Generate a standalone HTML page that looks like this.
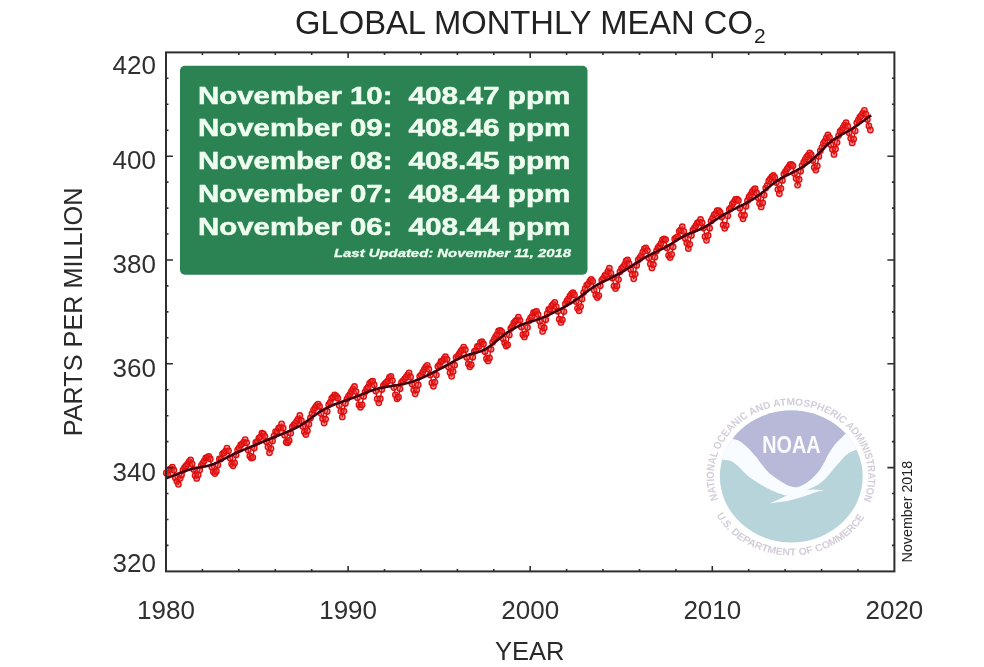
<!DOCTYPE html>
<html><head><meta charset="utf-8"><title>Global Monthly Mean CO2</title>
<style>
html,body{margin:0;padding:0;background:#fff;}
body{width:984px;height:667px;overflow:hidden;}
svg{display:block;will-change:transform;font-family:"Liberation Sans",Arial,sans-serif;}
</style></head><body>
<svg width="984" height="667" viewBox="0 0 984 667">
<rect width="984" height="667" fill="#fff"/>
<text x="295" y="33.5" font-size="32.6" fill="#222" textLength="458" lengthAdjust="spacingAndGlyphs">GLOBAL MONTHLY MEAN CO</text>
<text x="754" y="43" font-size="21" fill="#222">2</text>
<!-- NOAA logo -->
<defs>
  <clipPath id="disk"><ellipse cx="791.3" cy="476.4" rx="71.4" ry="66"/></clipPath>
</defs>
<ellipse cx="791.3" cy="476.4" rx="71.4" ry="66" fill="#b6d4da"/>
<g clip-path="url(#disk)">
  <path fill="#b8b8d8" d="M700.0,431.0 C705.5,432.3 726.3,437.2 733.0,439.0 C739.7,440.8 737.5,440.0 740.0,441.5 C742.5,443.0 745.8,446.0 748.0,448.0 C750.2,450.0 751.5,451.8 753.0,453.5 C754.5,455.2 755.7,456.3 757.0,458.0 C758.3,459.7 759.5,461.6 761.0,463.5 C762.5,465.4 764.3,467.9 766.0,469.7 C767.7,471.5 769.0,472.9 771.0,474.5 C773.0,476.1 775.3,477.8 778.0,479.5 C780.7,481.2 784.2,483.7 787.0,485.0 C789.8,486.3 792.5,487.2 795.0,487.3 C797.5,487.4 799.3,486.8 802.0,485.5 C804.7,484.2 808.2,481.9 811.0,479.5 C813.8,477.1 816.8,473.9 819.0,471.0 C821.2,468.1 822.9,464.8 824.5,462.0 C826.1,459.2 826.8,456.9 828.5,454.0 C830.2,451.1 832.8,447.2 835.0,444.5 C837.2,441.8 839.8,439.6 842.0,437.5 C844.2,435.4 841.7,436.6 848.0,432.0 C854.3,427.4 874.7,413.7 880.0,410.0 L880,395 L700,395 Z"/>
  <path fill="#f8fbff" d="M700.0,431.0 C705.5,432.3 726.3,437.2 733.0,439.0 C739.7,440.8 737.5,440.0 740.0,441.5 C742.5,443.0 745.8,446.0 748.0,448.0 C750.2,450.0 751.5,451.8 753.0,453.5 C754.5,455.2 755.7,456.3 757.0,458.0 C758.3,459.7 759.5,461.6 761.0,463.5 C762.5,465.4 764.3,467.9 766.0,469.7 C767.7,471.5 769.0,472.9 771.0,474.5 C773.0,476.1 775.3,477.8 778.0,479.5 C780.7,481.2 784.2,483.7 787.0,485.0 C789.8,486.3 792.5,487.2 795.0,487.3 C797.5,487.4 799.3,486.8 802.0,485.5 C804.7,484.2 808.2,481.9 811.0,479.5 C813.8,477.1 816.8,473.9 819.0,471.0 C821.2,468.1 822.9,464.8 824.5,462.0 C826.1,459.2 826.8,456.9 828.5,454.0 C830.2,451.1 832.8,447.2 835.0,444.5 C837.2,441.8 839.8,439.6 842.0,437.5 C844.2,435.4 841.7,436.6 848.0,432.0 C854.3,427.4 874.7,413.7 880.0,410.0 L880,447 C877.5,447.3 868.9,448.5 865.0,449.0 C861.1,449.5 859.4,449.0 856.5,449.8 C853.6,450.6 850.3,452.1 847.6,454.0 C844.9,455.9 842.8,458.6 840.4,461.2 C838.0,463.8 835.6,466.8 833.2,469.6 C830.8,472.4 828.6,475.4 826.0,478.0 C823.4,480.6 820.3,483.2 817.6,485.0 C814.9,486.8 812.4,487.2 810.0,488.5 C807.6,489.8 805.5,491.4 803.0,492.5 C800.5,493.6 797.8,494.5 795.0,495.0 C792.2,495.5 789.1,495.7 786.5,495.5 C783.9,495.3 781.8,494.4 779.4,493.6 C777.0,492.8 774.2,491.5 772.0,490.5 C769.8,489.5 768.5,489.0 766.0,487.6 C763.5,486.2 760.0,484.1 757.0,482.2 C754.0,480.3 751.0,478.5 748.0,476.0 C745.0,473.5 741.3,469.2 739.0,467.0 C736.7,464.8 735.5,464.1 734.0,463.0 C732.5,461.9 732.5,461.3 730.0,460.7 C727.5,460.1 724.0,459.8 719.0,459.5 C714.0,459.2 703.2,459.1 700.0,459.0 Z"/>
  <path fill="#f8fbff" d="M769.6,503.6 L778.0,502.3 L787.5,500.9 L796.0,498.8 L803.8,496.5 L812.0,493.5 L818.0,491.6 L824.5,490.3 L818.0,489.8 L812.0,489.6 L805.0,490.5 L796.0,492.5 L788.0,495.0 L781.0,498.3 L774.0,501.5 L769.6,503.6 Z"/>
</g>
<text x="791.4" y="453" font-size="23" font-weight="bold" fill="#fbfbff" text-anchor="middle" textLength="58.3" lengthAdjust="spacingAndGlyphs">NOAA</text>
<g transform="translate(791,476.4) scale(1.085,1)">
  <defs>
    <path id="toparc" d="M-67.1,23.1 A71,71 0 1 1 66.5,24.8"/>
    <path id="botarc" d="M-68.8,38.8 A79,79 0 0 0 68.1,40.1"/>
  </defs>
  <g fill="#d4cdda">
    <text font-size="10" font-weight="bold" textLength="271" lengthAdjust="spacingAndGlyphs"><textPath href="#toparc">NATIONAL OCEANIC AND ATMOSPHERIC ADMINISTRATION</textPath></text>
    <text font-size="10" font-weight="bold" textLength="165" lengthAdjust="spacingAndGlyphs"><textPath href="#botarc">U.S. DEPARTMENT OF COMMERCE</textPath></text>
  </g>
</g>
<!-- data -->
<defs><filter id="soft" x="-5%" y="-5%" width="110%" height="110%"><feGaussianBlur stdDeviation="0.45"/></filter></defs>
<g filter="url(#soft)">
<polyline points="166.3,472.9 167.8,474.4 169.3,469.9 170.9,468.6 172.4,467.1 173.9,470.2 175.4,477.9 176.9,481.3 178.4,484.3 180.0,478.5 181.5,475.0 183.0,470.2 184.5,467.7 186.0,466.0 187.5,464.2 189.1,461.7 190.6,459.8 192.1,463.8 193.6,469.5 195.1,475.6 196.7,478.4 198.2,474.9 199.7,469.9 201.2,465.6 202.7,463.3 204.2,460.9 205.8,457.9 207.3,457.7 208.8,456.5 210.3,459.0 211.8,467.1 213.3,471.8 214.9,473.6 216.4,471.2 217.9,465.1 219.4,458.9 220.9,459.1 222.5,453.8 224.0,452.9 225.5,451.1 227.0,448.1 228.5,450.8 230.0,458.1 231.6,463.8 233.1,465.7 234.6,462.9 236.1,455.1 237.6,449.9 239.1,447.9 240.7,444.9 242.2,443.8 243.7,442.1 245.2,439.6 246.7,442.8 248.2,450.0 249.8,456.0 251.3,458.1 252.8,457.4 254.3,448.1 255.8,442.5 257.4,441.7 258.9,438.1 260.4,436.8 261.9,433.2 263.4,434.0 264.9,436.4 266.5,441.7 268.0,447.1 269.5,452.7 271.0,448.6 272.5,440.9 274.0,435.8 275.6,431.6 277.1,431.6 278.6,428.2 280.1,427.2 281.6,423.9 283.2,428.2 284.7,435.2 286.2,442.2 287.7,442.7 289.2,440.5 290.7,433.2 292.3,426.9 293.8,425.0 295.3,423.4 296.8,421.2 298.3,418.9 299.8,415.5 301.4,420.7 302.9,426.5 304.4,432.1 305.9,434.5 307.4,430.7 308.9,424.2 310.5,418.0 312.0,413.7 313.5,410.1 315.0,407.8 316.5,405.6 318.1,404.1 319.6,406.5 321.1,413.4 322.6,418.7 324.1,423.1 325.6,419.1 327.2,411.5 328.7,404.7 330.2,402.4 331.7,398.4 333.2,397.0 334.7,394.8 336.3,396.2 337.8,398.2 339.3,405.4 340.8,411.1 342.3,416.9 343.9,411.1 345.4,403.5 346.9,399.1 348.4,396.5 349.9,394.3 351.4,391.5 353.0,388.9 354.5,386.5 356.0,391.6 357.5,397.7 359.0,404.9 360.5,407.2 362.1,404.8 363.6,396.4 365.1,392.0 366.6,388.9 368.1,387.2 369.6,383.3 371.2,381.8 372.7,381.2 374.2,384.8 375.7,391.1 377.2,398.8 378.8,402.8 380.3,398.7 381.8,389.6 383.3,385.7 384.8,383.8 386.3,382.5 387.9,380.8 389.4,377.5 390.9,376.3 392.4,380.6 393.9,387.6 395.4,394.8 397.0,398.7 398.5,397.2 400.0,388.8 401.5,382.4 403.0,381.0 404.6,378.8 406.1,377.2 407.6,374.9 409.1,372.8 410.6,377.2 412.1,384.1 413.7,390.1 415.2,393.8 416.7,389.9 418.2,384.9 419.7,376.3 421.2,374.9 422.8,372.1 424.3,369.3 425.8,366.9 427.3,365.4 428.8,369.2 430.3,374.9 431.9,382.9 433.4,386.2 434.9,382.1 436.4,375.1 437.9,366.5 439.5,364.7 441.0,361.5 442.5,360.8 444.0,358.7 445.5,356.7 447.0,359.3 448.6,367.0 450.1,372.7 451.6,376.3 453.1,371.6 454.6,365.2 456.1,357.4 457.7,356.1 459.2,354.0 460.7,351.5 462.2,349.6 463.7,347.1 465.3,349.7 466.8,357.4 468.3,363.8 469.8,366.7 471.3,364.8 472.8,357.2 474.4,351.5 475.9,350.3 477.4,346.5 478.9,346.4 480.4,342.5 481.9,341.7 483.5,344.0 485.0,351.7 486.5,358.7 488.0,360.9 489.5,358.0 491.0,349.3 492.6,342.3 494.1,339.4 495.6,336.6 497.1,334.3 498.6,331.0 500.2,330.5 501.7,331.6 503.2,338.7 504.7,343.1 506.2,346.0 507.7,344.8 509.3,334.9 510.8,328.5 512.3,326.4 513.8,322.8 515.3,321.2 516.8,319.9 518.4,317.2 519.9,320.3 521.4,327.0 522.9,334.7 524.4,336.9 526.0,333.7 527.5,327.4 529.0,320.8 530.5,318.1 532.0,316.4 533.5,312.6 535.1,311.8 536.6,311.4 538.1,314.6 539.6,321.1 541.1,325.9 542.6,331.4 544.2,327.9 545.7,319.7 547.2,313.7 548.7,309.4 550.2,309.3 551.7,306.0 553.3,304.2 554.8,302.3 556.3,306.8 557.8,311.2 559.3,319.2 560.9,322.4 562.4,319.8 563.9,311.6 565.4,304.0 566.9,301.0 568.4,298.8 570.0,296.0 571.5,293.9 573.0,292.7 574.5,294.9 576.0,301.6 577.5,308.3 579.1,310.7 580.6,306.6 582.1,299.0 583.6,292.6 585.1,288.7 586.7,285.1 588.2,284.1 589.7,281.3 591.2,279.5 592.7,281.3 594.2,290.2 595.8,294.9 597.3,297.5 598.8,295.6 600.3,285.8 601.8,280.1 603.3,278.3 604.9,275.5 606.4,274.5 607.9,271.5 609.4,268.2 610.9,273.4 612.4,278.1 614.0,286.1 615.5,288.6 617.0,285.9 618.5,279.6 620.0,271.7 621.6,268.4 623.1,267.0 624.6,264.7 626.1,260.9 627.6,259.9 629.1,263.7 630.7,269.5 632.2,274.5 633.7,278.8 635.2,274.1 636.7,265.4 638.2,259.9 639.8,258.0 641.3,255.6 642.8,252.1 644.3,248.9 645.8,247.8 647.4,250.6 648.9,258.0 650.4,263.9 651.9,267.9 653.4,264.5 654.9,257.2 656.5,251.0 658.0,247.7 659.5,245.9 661.0,243.5 662.5,239.9 664.0,238.9 665.6,239.7 667.1,247.9 668.6,255.5 670.1,257.6 671.6,254.4 673.1,247.0 674.7,238.9 676.2,237.6 677.7,236.8 679.2,231.3 680.7,229.9 682.3,226.7 683.8,231.4 685.3,238.5 686.8,243.0 688.3,248.5 689.8,244.3 691.4,235.4 692.9,230.2 694.4,228.0 695.9,225.7 697.4,223.0 698.9,222.1 700.5,219.5 702.0,222.7 703.5,228.1 705.0,236.6 706.5,240.3 708.1,235.5 709.6,228.2 711.1,220.9 712.6,218.2 714.1,214.8 715.6,213.6 717.2,210.6 718.7,210.7 720.2,212.3 721.7,217.0 723.2,225.0 724.7,228.3 726.3,225.3 727.8,215.8 729.3,209.5 730.8,208.0 732.3,204.2 733.8,202.2 735.4,199.5 736.9,199.1 738.4,200.4 739.9,208.2 741.4,215.1 743.0,218.8 744.5,215.2 746.0,206.3 747.5,200.7 749.0,197.0 750.5,194.9 752.1,191.9 753.6,189.8 755.1,188.7 756.6,193.0 758.1,197.7 759.6,203.5 761.2,206.9 762.7,202.8 764.2,195.1 765.7,188.1 767.2,185.5 768.8,180.9 770.3,179.0 771.8,176.8 773.3,175.5 774.8,177.4 776.3,182.6 777.9,189.6 779.4,193.7 780.9,188.5 782.4,180.4 783.9,174.2 785.4,171.7 787.0,169.1 788.5,167.2 790.0,164.7 791.5,164.4 793.0,165.8 794.5,173.5 796.1,178.6 797.6,185.1 799.1,179.5 800.6,171.2 802.1,165.6 803.7,162.2 805.2,159.4 806.7,156.9 808.2,155.1 809.7,152.8 811.2,154.6 812.8,160.6 814.3,167.4 815.8,170.1 817.3,165.9 818.8,156.4 820.3,150.8 821.9,147.6 823.4,143.4 824.9,141.2 826.4,137.8 827.9,135.0 829.5,137.3 831.0,144.7 832.5,149.4 834.0,154.4 835.5,149.0 837.0,142.4 838.6,135.6 840.1,131.4 841.6,129.8 843.1,127.7 844.6,125.0 846.1,122.7 847.7,126.2 849.2,132.8 850.7,138.3 852.2,142.9 853.7,139.1 855.2,130.9 856.8,122.8 858.3,120.1 859.8,117.2 861.3,115.6 862.8,113.1 864.4,110.4 865.9,114.1 867.4,119.6 868.9,125.9 870.4,130.0" fill="none" stroke="#b00808" stroke-width="1.3" stroke-linejoin="round"/>
<g fill="#ee3333" fill-opacity="0.5" stroke="#e01010" stroke-width="1.35"><circle cx="166.3" cy="472.9" r="2.75"/><circle cx="167.8" cy="474.4" r="2.75"/><circle cx="169.3" cy="469.9" r="2.75"/><circle cx="170.9" cy="468.6" r="2.75"/><circle cx="172.4" cy="467.1" r="2.75"/><circle cx="173.9" cy="470.2" r="2.75"/><circle cx="175.4" cy="477.9" r="2.75"/><circle cx="176.9" cy="481.3" r="2.75"/><circle cx="178.4" cy="484.3" r="2.75"/><circle cx="180.0" cy="478.5" r="2.75"/><circle cx="181.5" cy="475.0" r="2.75"/><circle cx="183.0" cy="470.2" r="2.75"/><circle cx="184.5" cy="467.7" r="2.75"/><circle cx="186.0" cy="466.0" r="2.75"/><circle cx="187.5" cy="464.2" r="2.75"/><circle cx="189.1" cy="461.7" r="2.75"/><circle cx="190.6" cy="459.8" r="2.75"/><circle cx="192.1" cy="463.8" r="2.75"/><circle cx="193.6" cy="469.5" r="2.75"/><circle cx="195.1" cy="475.6" r="2.75"/><circle cx="196.7" cy="478.4" r="2.75"/><circle cx="198.2" cy="474.9" r="2.75"/><circle cx="199.7" cy="469.9" r="2.75"/><circle cx="201.2" cy="465.6" r="2.75"/><circle cx="202.7" cy="463.3" r="2.75"/><circle cx="204.2" cy="460.9" r="2.75"/><circle cx="205.8" cy="457.9" r="2.75"/><circle cx="207.3" cy="457.7" r="2.75"/><circle cx="208.8" cy="456.5" r="2.75"/><circle cx="210.3" cy="459.0" r="2.75"/><circle cx="211.8" cy="467.1" r="2.75"/><circle cx="213.3" cy="471.8" r="2.75"/><circle cx="214.9" cy="473.6" r="2.75"/><circle cx="216.4" cy="471.2" r="2.75"/><circle cx="217.9" cy="465.1" r="2.75"/><circle cx="219.4" cy="458.9" r="2.75"/><circle cx="220.9" cy="459.1" r="2.75"/><circle cx="222.5" cy="453.8" r="2.75"/><circle cx="224.0" cy="452.9" r="2.75"/><circle cx="225.5" cy="451.1" r="2.75"/><circle cx="227.0" cy="448.1" r="2.75"/><circle cx="228.5" cy="450.8" r="2.75"/><circle cx="230.0" cy="458.1" r="2.75"/><circle cx="231.6" cy="463.8" r="2.75"/><circle cx="233.1" cy="465.7" r="2.75"/><circle cx="234.6" cy="462.9" r="2.75"/><circle cx="236.1" cy="455.1" r="2.75"/><circle cx="237.6" cy="449.9" r="2.75"/><circle cx="239.1" cy="447.9" r="2.75"/><circle cx="240.7" cy="444.9" r="2.75"/><circle cx="242.2" cy="443.8" r="2.75"/><circle cx="243.7" cy="442.1" r="2.75"/><circle cx="245.2" cy="439.6" r="2.75"/><circle cx="246.7" cy="442.8" r="2.75"/><circle cx="248.2" cy="450.0" r="2.75"/><circle cx="249.8" cy="456.0" r="2.75"/><circle cx="251.3" cy="458.1" r="2.75"/><circle cx="252.8" cy="457.4" r="2.75"/><circle cx="254.3" cy="448.1" r="2.75"/><circle cx="255.8" cy="442.5" r="2.75"/><circle cx="257.4" cy="441.7" r="2.75"/><circle cx="258.9" cy="438.1" r="2.75"/><circle cx="260.4" cy="436.8" r="2.75"/><circle cx="261.9" cy="433.2" r="2.75"/><circle cx="263.4" cy="434.0" r="2.75"/><circle cx="264.9" cy="436.4" r="2.75"/><circle cx="266.5" cy="441.7" r="2.75"/><circle cx="268.0" cy="447.1" r="2.75"/><circle cx="269.5" cy="452.7" r="2.75"/><circle cx="271.0" cy="448.6" r="2.75"/><circle cx="272.5" cy="440.9" r="2.75"/><circle cx="274.0" cy="435.8" r="2.75"/><circle cx="275.6" cy="431.6" r="2.75"/><circle cx="277.1" cy="431.6" r="2.75"/><circle cx="278.6" cy="428.2" r="2.75"/><circle cx="280.1" cy="427.2" r="2.75"/><circle cx="281.6" cy="423.9" r="2.75"/><circle cx="283.2" cy="428.2" r="2.75"/><circle cx="284.7" cy="435.2" r="2.75"/><circle cx="286.2" cy="442.2" r="2.75"/><circle cx="287.7" cy="442.7" r="2.75"/><circle cx="289.2" cy="440.5" r="2.75"/><circle cx="290.7" cy="433.2" r="2.75"/><circle cx="292.3" cy="426.9" r="2.75"/><circle cx="293.8" cy="425.0" r="2.75"/><circle cx="295.3" cy="423.4" r="2.75"/><circle cx="296.8" cy="421.2" r="2.75"/><circle cx="298.3" cy="418.9" r="2.75"/><circle cx="299.8" cy="415.5" r="2.75"/><circle cx="301.4" cy="420.7" r="2.75"/><circle cx="302.9" cy="426.5" r="2.75"/><circle cx="304.4" cy="432.1" r="2.75"/><circle cx="305.9" cy="434.5" r="2.75"/><circle cx="307.4" cy="430.7" r="2.75"/><circle cx="308.9" cy="424.2" r="2.75"/><circle cx="310.5" cy="418.0" r="2.75"/><circle cx="312.0" cy="413.7" r="2.75"/><circle cx="313.5" cy="410.1" r="2.75"/><circle cx="315.0" cy="407.8" r="2.75"/><circle cx="316.5" cy="405.6" r="2.75"/><circle cx="318.1" cy="404.1" r="2.75"/><circle cx="319.6" cy="406.5" r="2.75"/><circle cx="321.1" cy="413.4" r="2.75"/><circle cx="322.6" cy="418.7" r="2.75"/><circle cx="324.1" cy="423.1" r="2.75"/><circle cx="325.6" cy="419.1" r="2.75"/><circle cx="327.2" cy="411.5" r="2.75"/><circle cx="328.7" cy="404.7" r="2.75"/><circle cx="330.2" cy="402.4" r="2.75"/><circle cx="331.7" cy="398.4" r="2.75"/><circle cx="333.2" cy="397.0" r="2.75"/><circle cx="334.7" cy="394.8" r="2.75"/><circle cx="336.3" cy="396.2" r="2.75"/><circle cx="337.8" cy="398.2" r="2.75"/><circle cx="339.3" cy="405.4" r="2.75"/><circle cx="340.8" cy="411.1" r="2.75"/><circle cx="342.3" cy="416.9" r="2.75"/><circle cx="343.9" cy="411.1" r="2.75"/><circle cx="345.4" cy="403.5" r="2.75"/><circle cx="346.9" cy="399.1" r="2.75"/><circle cx="348.4" cy="396.5" r="2.75"/><circle cx="349.9" cy="394.3" r="2.75"/><circle cx="351.4" cy="391.5" r="2.75"/><circle cx="353.0" cy="388.9" r="2.75"/><circle cx="354.5" cy="386.5" r="2.75"/><circle cx="356.0" cy="391.6" r="2.75"/><circle cx="357.5" cy="397.7" r="2.75"/><circle cx="359.0" cy="404.9" r="2.75"/><circle cx="360.5" cy="407.2" r="2.75"/><circle cx="362.1" cy="404.8" r="2.75"/><circle cx="363.6" cy="396.4" r="2.75"/><circle cx="365.1" cy="392.0" r="2.75"/><circle cx="366.6" cy="388.9" r="2.75"/><circle cx="368.1" cy="387.2" r="2.75"/><circle cx="369.6" cy="383.3" r="2.75"/><circle cx="371.2" cy="381.8" r="2.75"/><circle cx="372.7" cy="381.2" r="2.75"/><circle cx="374.2" cy="384.8" r="2.75"/><circle cx="375.7" cy="391.1" r="2.75"/><circle cx="377.2" cy="398.8" r="2.75"/><circle cx="378.8" cy="402.8" r="2.75"/><circle cx="380.3" cy="398.7" r="2.75"/><circle cx="381.8" cy="389.6" r="2.75"/><circle cx="383.3" cy="385.7" r="2.75"/><circle cx="384.8" cy="383.8" r="2.75"/><circle cx="386.3" cy="382.5" r="2.75"/><circle cx="387.9" cy="380.8" r="2.75"/><circle cx="389.4" cy="377.5" r="2.75"/><circle cx="390.9" cy="376.3" r="2.75"/><circle cx="392.4" cy="380.6" r="2.75"/><circle cx="393.9" cy="387.6" r="2.75"/><circle cx="395.4" cy="394.8" r="2.75"/><circle cx="397.0" cy="398.7" r="2.75"/><circle cx="398.5" cy="397.2" r="2.75"/><circle cx="400.0" cy="388.8" r="2.75"/><circle cx="401.5" cy="382.4" r="2.75"/><circle cx="403.0" cy="381.0" r="2.75"/><circle cx="404.6" cy="378.8" r="2.75"/><circle cx="406.1" cy="377.2" r="2.75"/><circle cx="407.6" cy="374.9" r="2.75"/><circle cx="409.1" cy="372.8" r="2.75"/><circle cx="410.6" cy="377.2" r="2.75"/><circle cx="412.1" cy="384.1" r="2.75"/><circle cx="413.7" cy="390.1" r="2.75"/><circle cx="415.2" cy="393.8" r="2.75"/><circle cx="416.7" cy="389.9" r="2.75"/><circle cx="418.2" cy="384.9" r="2.75"/><circle cx="419.7" cy="376.3" r="2.75"/><circle cx="421.2" cy="374.9" r="2.75"/><circle cx="422.8" cy="372.1" r="2.75"/><circle cx="424.3" cy="369.3" r="2.75"/><circle cx="425.8" cy="366.9" r="2.75"/><circle cx="427.3" cy="365.4" r="2.75"/><circle cx="428.8" cy="369.2" r="2.75"/><circle cx="430.3" cy="374.9" r="2.75"/><circle cx="431.9" cy="382.9" r="2.75"/><circle cx="433.4" cy="386.2" r="2.75"/><circle cx="434.9" cy="382.1" r="2.75"/><circle cx="436.4" cy="375.1" r="2.75"/><circle cx="437.9" cy="366.5" r="2.75"/><circle cx="439.5" cy="364.7" r="2.75"/><circle cx="441.0" cy="361.5" r="2.75"/><circle cx="442.5" cy="360.8" r="2.75"/><circle cx="444.0" cy="358.7" r="2.75"/><circle cx="445.5" cy="356.7" r="2.75"/><circle cx="447.0" cy="359.3" r="2.75"/><circle cx="448.6" cy="367.0" r="2.75"/><circle cx="450.1" cy="372.7" r="2.75"/><circle cx="451.6" cy="376.3" r="2.75"/><circle cx="453.1" cy="371.6" r="2.75"/><circle cx="454.6" cy="365.2" r="2.75"/><circle cx="456.1" cy="357.4" r="2.75"/><circle cx="457.7" cy="356.1" r="2.75"/><circle cx="459.2" cy="354.0" r="2.75"/><circle cx="460.7" cy="351.5" r="2.75"/><circle cx="462.2" cy="349.6" r="2.75"/><circle cx="463.7" cy="347.1" r="2.75"/><circle cx="465.3" cy="349.7" r="2.75"/><circle cx="466.8" cy="357.4" r="2.75"/><circle cx="468.3" cy="363.8" r="2.75"/><circle cx="469.8" cy="366.7" r="2.75"/><circle cx="471.3" cy="364.8" r="2.75"/><circle cx="472.8" cy="357.2" r="2.75"/><circle cx="474.4" cy="351.5" r="2.75"/><circle cx="475.9" cy="350.3" r="2.75"/><circle cx="477.4" cy="346.5" r="2.75"/><circle cx="478.9" cy="346.4" r="2.75"/><circle cx="480.4" cy="342.5" r="2.75"/><circle cx="481.9" cy="341.7" r="2.75"/><circle cx="483.5" cy="344.0" r="2.75"/><circle cx="485.0" cy="351.7" r="2.75"/><circle cx="486.5" cy="358.7" r="2.75"/><circle cx="488.0" cy="360.9" r="2.75"/><circle cx="489.5" cy="358.0" r="2.75"/><circle cx="491.0" cy="349.3" r="2.75"/><circle cx="492.6" cy="342.3" r="2.75"/><circle cx="494.1" cy="339.4" r="2.75"/><circle cx="495.6" cy="336.6" r="2.75"/><circle cx="497.1" cy="334.3" r="2.75"/><circle cx="498.6" cy="331.0" r="2.75"/><circle cx="500.2" cy="330.5" r="2.75"/><circle cx="501.7" cy="331.6" r="2.75"/><circle cx="503.2" cy="338.7" r="2.75"/><circle cx="504.7" cy="343.1" r="2.75"/><circle cx="506.2" cy="346.0" r="2.75"/><circle cx="507.7" cy="344.8" r="2.75"/><circle cx="509.3" cy="334.9" r="2.75"/><circle cx="510.8" cy="328.5" r="2.75"/><circle cx="512.3" cy="326.4" r="2.75"/><circle cx="513.8" cy="322.8" r="2.75"/><circle cx="515.3" cy="321.2" r="2.75"/><circle cx="516.8" cy="319.9" r="2.75"/><circle cx="518.4" cy="317.2" r="2.75"/><circle cx="519.9" cy="320.3" r="2.75"/><circle cx="521.4" cy="327.0" r="2.75"/><circle cx="522.9" cy="334.7" r="2.75"/><circle cx="524.4" cy="336.9" r="2.75"/><circle cx="526.0" cy="333.7" r="2.75"/><circle cx="527.5" cy="327.4" r="2.75"/><circle cx="529.0" cy="320.8" r="2.75"/><circle cx="530.5" cy="318.1" r="2.75"/><circle cx="532.0" cy="316.4" r="2.75"/><circle cx="533.5" cy="312.6" r="2.75"/><circle cx="535.1" cy="311.8" r="2.75"/><circle cx="536.6" cy="311.4" r="2.75"/><circle cx="538.1" cy="314.6" r="2.75"/><circle cx="539.6" cy="321.1" r="2.75"/><circle cx="541.1" cy="325.9" r="2.75"/><circle cx="542.6" cy="331.4" r="2.75"/><circle cx="544.2" cy="327.9" r="2.75"/><circle cx="545.7" cy="319.7" r="2.75"/><circle cx="547.2" cy="313.7" r="2.75"/><circle cx="548.7" cy="309.4" r="2.75"/><circle cx="550.2" cy="309.3" r="2.75"/><circle cx="551.7" cy="306.0" r="2.75"/><circle cx="553.3" cy="304.2" r="2.75"/><circle cx="554.8" cy="302.3" r="2.75"/><circle cx="556.3" cy="306.8" r="2.75"/><circle cx="557.8" cy="311.2" r="2.75"/><circle cx="559.3" cy="319.2" r="2.75"/><circle cx="560.9" cy="322.4" r="2.75"/><circle cx="562.4" cy="319.8" r="2.75"/><circle cx="563.9" cy="311.6" r="2.75"/><circle cx="565.4" cy="304.0" r="2.75"/><circle cx="566.9" cy="301.0" r="2.75"/><circle cx="568.4" cy="298.8" r="2.75"/><circle cx="570.0" cy="296.0" r="2.75"/><circle cx="571.5" cy="293.9" r="2.75"/><circle cx="573.0" cy="292.7" r="2.75"/><circle cx="574.5" cy="294.9" r="2.75"/><circle cx="576.0" cy="301.6" r="2.75"/><circle cx="577.5" cy="308.3" r="2.75"/><circle cx="579.1" cy="310.7" r="2.75"/><circle cx="580.6" cy="306.6" r="2.75"/><circle cx="582.1" cy="299.0" r="2.75"/><circle cx="583.6" cy="292.6" r="2.75"/><circle cx="585.1" cy="288.7" r="2.75"/><circle cx="586.7" cy="285.1" r="2.75"/><circle cx="588.2" cy="284.1" r="2.75"/><circle cx="589.7" cy="281.3" r="2.75"/><circle cx="591.2" cy="279.5" r="2.75"/><circle cx="592.7" cy="281.3" r="2.75"/><circle cx="594.2" cy="290.2" r="2.75"/><circle cx="595.8" cy="294.9" r="2.75"/><circle cx="597.3" cy="297.5" r="2.75"/><circle cx="598.8" cy="295.6" r="2.75"/><circle cx="600.3" cy="285.8" r="2.75"/><circle cx="601.8" cy="280.1" r="2.75"/><circle cx="603.3" cy="278.3" r="2.75"/><circle cx="604.9" cy="275.5" r="2.75"/><circle cx="606.4" cy="274.5" r="2.75"/><circle cx="607.9" cy="271.5" r="2.75"/><circle cx="609.4" cy="268.2" r="2.75"/><circle cx="610.9" cy="273.4" r="2.75"/><circle cx="612.4" cy="278.1" r="2.75"/><circle cx="614.0" cy="286.1" r="2.75"/><circle cx="615.5" cy="288.6" r="2.75"/><circle cx="617.0" cy="285.9" r="2.75"/><circle cx="618.5" cy="279.6" r="2.75"/><circle cx="620.0" cy="271.7" r="2.75"/><circle cx="621.6" cy="268.4" r="2.75"/><circle cx="623.1" cy="267.0" r="2.75"/><circle cx="624.6" cy="264.7" r="2.75"/><circle cx="626.1" cy="260.9" r="2.75"/><circle cx="627.6" cy="259.9" r="2.75"/><circle cx="629.1" cy="263.7" r="2.75"/><circle cx="630.7" cy="269.5" r="2.75"/><circle cx="632.2" cy="274.5" r="2.75"/><circle cx="633.7" cy="278.8" r="2.75"/><circle cx="635.2" cy="274.1" r="2.75"/><circle cx="636.7" cy="265.4" r="2.75"/><circle cx="638.2" cy="259.9" r="2.75"/><circle cx="639.8" cy="258.0" r="2.75"/><circle cx="641.3" cy="255.6" r="2.75"/><circle cx="642.8" cy="252.1" r="2.75"/><circle cx="644.3" cy="248.9" r="2.75"/><circle cx="645.8" cy="247.8" r="2.75"/><circle cx="647.4" cy="250.6" r="2.75"/><circle cx="648.9" cy="258.0" r="2.75"/><circle cx="650.4" cy="263.9" r="2.75"/><circle cx="651.9" cy="267.9" r="2.75"/><circle cx="653.4" cy="264.5" r="2.75"/><circle cx="654.9" cy="257.2" r="2.75"/><circle cx="656.5" cy="251.0" r="2.75"/><circle cx="658.0" cy="247.7" r="2.75"/><circle cx="659.5" cy="245.9" r="2.75"/><circle cx="661.0" cy="243.5" r="2.75"/><circle cx="662.5" cy="239.9" r="2.75"/><circle cx="664.0" cy="238.9" r="2.75"/><circle cx="665.6" cy="239.7" r="2.75"/><circle cx="667.1" cy="247.9" r="2.75"/><circle cx="668.6" cy="255.5" r="2.75"/><circle cx="670.1" cy="257.6" r="2.75"/><circle cx="671.6" cy="254.4" r="2.75"/><circle cx="673.1" cy="247.0" r="2.75"/><circle cx="674.7" cy="238.9" r="2.75"/><circle cx="676.2" cy="237.6" r="2.75"/><circle cx="677.7" cy="236.8" r="2.75"/><circle cx="679.2" cy="231.3" r="2.75"/><circle cx="680.7" cy="229.9" r="2.75"/><circle cx="682.3" cy="226.7" r="2.75"/><circle cx="683.8" cy="231.4" r="2.75"/><circle cx="685.3" cy="238.5" r="2.75"/><circle cx="686.8" cy="243.0" r="2.75"/><circle cx="688.3" cy="248.5" r="2.75"/><circle cx="689.8" cy="244.3" r="2.75"/><circle cx="691.4" cy="235.4" r="2.75"/><circle cx="692.9" cy="230.2" r="2.75"/><circle cx="694.4" cy="228.0" r="2.75"/><circle cx="695.9" cy="225.7" r="2.75"/><circle cx="697.4" cy="223.0" r="2.75"/><circle cx="698.9" cy="222.1" r="2.75"/><circle cx="700.5" cy="219.5" r="2.75"/><circle cx="702.0" cy="222.7" r="2.75"/><circle cx="703.5" cy="228.1" r="2.75"/><circle cx="705.0" cy="236.6" r="2.75"/><circle cx="706.5" cy="240.3" r="2.75"/><circle cx="708.1" cy="235.5" r="2.75"/><circle cx="709.6" cy="228.2" r="2.75"/><circle cx="711.1" cy="220.9" r="2.75"/><circle cx="712.6" cy="218.2" r="2.75"/><circle cx="714.1" cy="214.8" r="2.75"/><circle cx="715.6" cy="213.6" r="2.75"/><circle cx="717.2" cy="210.6" r="2.75"/><circle cx="718.7" cy="210.7" r="2.75"/><circle cx="720.2" cy="212.3" r="2.75"/><circle cx="721.7" cy="217.0" r="2.75"/><circle cx="723.2" cy="225.0" r="2.75"/><circle cx="724.7" cy="228.3" r="2.75"/><circle cx="726.3" cy="225.3" r="2.75"/><circle cx="727.8" cy="215.8" r="2.75"/><circle cx="729.3" cy="209.5" r="2.75"/><circle cx="730.8" cy="208.0" r="2.75"/><circle cx="732.3" cy="204.2" r="2.75"/><circle cx="733.8" cy="202.2" r="2.75"/><circle cx="735.4" cy="199.5" r="2.75"/><circle cx="736.9" cy="199.1" r="2.75"/><circle cx="738.4" cy="200.4" r="2.75"/><circle cx="739.9" cy="208.2" r="2.75"/><circle cx="741.4" cy="215.1" r="2.75"/><circle cx="743.0" cy="218.8" r="2.75"/><circle cx="744.5" cy="215.2" r="2.75"/><circle cx="746.0" cy="206.3" r="2.75"/><circle cx="747.5" cy="200.7" r="2.75"/><circle cx="749.0" cy="197.0" r="2.75"/><circle cx="750.5" cy="194.9" r="2.75"/><circle cx="752.1" cy="191.9" r="2.75"/><circle cx="753.6" cy="189.8" r="2.75"/><circle cx="755.1" cy="188.7" r="2.75"/><circle cx="756.6" cy="193.0" r="2.75"/><circle cx="758.1" cy="197.7" r="2.75"/><circle cx="759.6" cy="203.5" r="2.75"/><circle cx="761.2" cy="206.9" r="2.75"/><circle cx="762.7" cy="202.8" r="2.75"/><circle cx="764.2" cy="195.1" r="2.75"/><circle cx="765.7" cy="188.1" r="2.75"/><circle cx="767.2" cy="185.5" r="2.75"/><circle cx="768.8" cy="180.9" r="2.75"/><circle cx="770.3" cy="179.0" r="2.75"/><circle cx="771.8" cy="176.8" r="2.75"/><circle cx="773.3" cy="175.5" r="2.75"/><circle cx="774.8" cy="177.4" r="2.75"/><circle cx="776.3" cy="182.6" r="2.75"/><circle cx="777.9" cy="189.6" r="2.75"/><circle cx="779.4" cy="193.7" r="2.75"/><circle cx="780.9" cy="188.5" r="2.75"/><circle cx="782.4" cy="180.4" r="2.75"/><circle cx="783.9" cy="174.2" r="2.75"/><circle cx="785.4" cy="171.7" r="2.75"/><circle cx="787.0" cy="169.1" r="2.75"/><circle cx="788.5" cy="167.2" r="2.75"/><circle cx="790.0" cy="164.7" r="2.75"/><circle cx="791.5" cy="164.4" r="2.75"/><circle cx="793.0" cy="165.8" r="2.75"/><circle cx="794.5" cy="173.5" r="2.75"/><circle cx="796.1" cy="178.6" r="2.75"/><circle cx="797.6" cy="185.1" r="2.75"/><circle cx="799.1" cy="179.5" r="2.75"/><circle cx="800.6" cy="171.2" r="2.75"/><circle cx="802.1" cy="165.6" r="2.75"/><circle cx="803.7" cy="162.2" r="2.75"/><circle cx="805.2" cy="159.4" r="2.75"/><circle cx="806.7" cy="156.9" r="2.75"/><circle cx="808.2" cy="155.1" r="2.75"/><circle cx="809.7" cy="152.8" r="2.75"/><circle cx="811.2" cy="154.6" r="2.75"/><circle cx="812.8" cy="160.6" r="2.75"/><circle cx="814.3" cy="167.4" r="2.75"/><circle cx="815.8" cy="170.1" r="2.75"/><circle cx="817.3" cy="165.9" r="2.75"/><circle cx="818.8" cy="156.4" r="2.75"/><circle cx="820.3" cy="150.8" r="2.75"/><circle cx="821.9" cy="147.6" r="2.75"/><circle cx="823.4" cy="143.4" r="2.75"/><circle cx="824.9" cy="141.2" r="2.75"/><circle cx="826.4" cy="137.8" r="2.75"/><circle cx="827.9" cy="135.0" r="2.75"/><circle cx="829.5" cy="137.3" r="2.75"/><circle cx="831.0" cy="144.7" r="2.75"/><circle cx="832.5" cy="149.4" r="2.75"/><circle cx="834.0" cy="154.4" r="2.75"/><circle cx="835.5" cy="149.0" r="2.75"/><circle cx="837.0" cy="142.4" r="2.75"/><circle cx="838.6" cy="135.6" r="2.75"/><circle cx="840.1" cy="131.4" r="2.75"/><circle cx="841.6" cy="129.8" r="2.75"/><circle cx="843.1" cy="127.7" r="2.75"/><circle cx="844.6" cy="125.0" r="2.75"/><circle cx="846.1" cy="122.7" r="2.75"/><circle cx="847.7" cy="126.2" r="2.75"/><circle cx="849.2" cy="132.8" r="2.75"/><circle cx="850.7" cy="138.3" r="2.75"/><circle cx="852.2" cy="142.9" r="2.75"/><circle cx="853.7" cy="139.1" r="2.75"/><circle cx="855.2" cy="130.9" r="2.75"/><circle cx="856.8" cy="122.8" r="2.75"/><circle cx="858.3" cy="120.1" r="2.75"/><circle cx="859.8" cy="117.2" r="2.75"/><circle cx="861.3" cy="115.6" r="2.75"/><circle cx="862.8" cy="113.1" r="2.75"/><circle cx="864.4" cy="110.4" r="2.75"/><circle cx="865.9" cy="114.1" r="2.75"/><circle cx="867.4" cy="119.6" r="2.75"/><circle cx="868.9" cy="125.9" r="2.75"/><circle cx="870.4" cy="130.0" r="2.75"/></g>
<polyline points="166.0,478.3 166.9,478.0 167.8,477.6 168.7,477.3 169.6,477.0 170.6,476.6 171.5,476.3 172.4,475.9 173.3,475.5 174.2,475.2 175.1,474.8 176.0,474.5 176.9,474.1 177.8,473.7 178.7,473.4 179.7,473.0 180.6,472.7 181.5,472.3 182.4,472.0 183.3,471.7 184.2,471.3 185.1,471.0 186.0,470.7 186.9,470.4 187.9,470.1 188.8,469.8 189.7,469.5 190.6,469.3 191.5,469.0 192.4,468.8 193.3,468.6 194.2,468.4 195.1,468.2 196.0,468.0 197.0,467.8 197.9,467.7 198.8,467.5 199.7,467.3 200.6,467.2 201.5,467.0 202.4,466.9 203.3,466.7 204.2,466.5 205.2,466.4 206.1,466.2 207.0,466.0 207.9,465.7 208.8,465.5 209.7,465.3 210.6,465.0 211.5,464.7 212.4,464.4 213.3,464.0 214.3,463.7 215.2,463.3 216.1,462.9 217.0,462.5 217.9,462.1 218.8,461.6 219.7,461.2 220.6,460.7 221.5,460.3 222.5,459.8 223.4,459.3 224.3,458.9 225.2,458.4 226.1,457.9 227.0,457.4 227.9,457.0 228.8,456.5 229.7,456.0 230.6,455.6 231.6,455.1 232.5,454.7 233.4,454.3 234.3,453.9 235.2,453.4 236.1,453.0 237.0,452.6 237.9,452.2 238.8,451.8 239.8,451.5 240.7,451.1 241.6,450.7 242.5,450.3 243.4,449.9 244.3,449.5 245.2,449.2 246.1,448.8 247.0,448.4 247.9,448.0 248.9,447.7 249.8,447.3 250.7,446.9 251.6,446.5 252.5,446.1 253.4,445.7 254.3,445.4 255.2,445.0 256.1,444.6 257.0,444.2 258.0,443.8 258.9,443.4 259.8,443.1 260.7,442.7 261.6,442.3 262.5,441.9 263.4,441.5 264.3,441.2 265.2,440.8 266.2,440.4 267.1,440.0 268.0,439.7 268.9,439.3 269.8,438.9 270.7,438.5 271.6,438.2 272.5,437.8 273.4,437.4 274.3,437.1 275.3,436.7 276.2,436.3 277.1,435.9 278.0,435.6 278.9,435.2 279.8,434.8 280.7,434.5 281.6,434.1 282.5,433.7 283.5,433.4 284.4,433.0 285.3,432.6 286.2,432.2 287.1,431.9 288.0,431.5 288.9,431.1 289.8,430.7 290.7,430.3 291.6,429.9 292.6,429.5 293.5,429.1 294.4,428.6 295.3,428.2 296.2,427.7 297.1,427.3 298.0,426.8 298.9,426.3 299.8,425.8 300.8,425.2 301.7,424.7 302.6,424.1 303.5,423.5 304.4,422.9 305.3,422.3 306.2,421.7 307.1,421.0 308.0,420.3 308.9,419.7 309.9,419.0 310.8,418.3 311.7,417.7 312.6,417.0 313.5,416.3 314.4,415.6 315.3,415.0 316.2,414.3 317.1,413.7 318.1,413.0 319.0,412.4 319.9,411.8 320.8,411.2 321.7,410.7 322.6,410.1 323.5,409.6 324.4,409.1 325.3,408.6 326.2,408.1 327.2,407.7 328.1,407.3 329.0,406.8 329.9,406.4 330.8,406.0 331.7,405.6 332.6,405.2 333.5,404.9 334.4,404.5 335.4,404.1 336.3,403.8 337.2,403.4 338.1,403.1 339.0,402.8 339.9,402.4 340.8,402.1 341.7,401.8 342.6,401.5 343.5,401.1 344.5,400.8 345.4,400.5 346.3,400.2 347.2,399.9 348.1,399.5 349.0,399.2 349.9,398.9 350.8,398.6 351.7,398.2 352.7,397.9 353.6,397.6 354.5,397.2 355.4,396.9 356.3,396.5 357.2,396.2 358.1,395.8 359.0,395.5 359.9,395.1 360.8,394.7 361.8,394.4 362.7,394.0 363.6,393.6 364.5,393.3 365.4,392.9 366.3,392.5 367.2,392.2 368.1,391.8 369.0,391.5 370.0,391.1 370.9,390.8 371.8,390.5 372.7,390.2 373.6,389.9 374.5,389.6 375.4,389.3 376.3,389.0 377.2,388.8 378.1,388.5 379.1,388.3 380.0,388.1 380.9,387.9 381.8,387.7 382.7,387.5 383.6,387.3 384.5,387.1 385.4,387.0 386.3,386.8 387.3,386.7 388.2,386.5 389.1,386.4 390.0,386.2 390.9,386.1 391.8,385.9 392.7,385.8 393.6,385.6 394.5,385.5 395.4,385.4 396.4,385.2 397.3,385.1 398.2,384.9 399.1,384.8 400.0,384.6 400.9,384.4 401.8,384.3 402.7,384.1 403.6,383.9 404.6,383.7 405.5,383.5 406.4,383.3 407.3,383.1 408.2,382.9 409.1,382.6 410.0,382.4 410.9,382.1 411.8,381.8 412.7,381.5 413.7,381.2 414.6,380.9 415.5,380.6 416.4,380.2 417.3,379.8 418.2,379.5 419.1,379.1 420.0,378.7 420.9,378.3 421.9,377.9 422.8,377.5 423.7,377.1 424.6,376.7 425.5,376.2 426.4,375.8 427.3,375.4 428.2,374.9 429.1,374.5 430.0,374.0 431.0,373.6 431.9,373.1 432.8,372.7 433.7,372.2 434.6,371.7 435.5,371.3 436.4,370.8 437.3,370.3 438.2,369.9 439.1,369.4 440.1,368.9 441.0,368.4 441.9,368.0 442.8,367.5 443.7,367.0 444.6,366.5 445.5,366.0 446.4,365.5 447.3,365.0 448.3,364.5 449.2,364.0 450.1,363.4 451.0,362.9 451.9,362.4 452.8,361.9 453.7,361.4 454.6,360.9 455.5,360.4 456.4,359.9 457.4,359.4 458.3,358.9 459.2,358.5 460.1,358.0 461.0,357.6 461.9,357.2 462.8,356.8 463.7,356.4 464.6,356.0 465.6,355.7 466.5,355.3 467.4,355.0 468.3,354.8 469.2,354.5 470.1,354.2 471.0,354.0 471.9,353.8 472.8,353.5 473.7,353.3 474.7,353.1 475.6,352.8 476.5,352.6 477.4,352.3 478.3,352.1 479.2,351.8 480.1,351.5 481.0,351.2 481.9,350.8 482.9,350.4 483.8,350.0 484.7,349.5 485.6,349.0 486.5,348.5 487.4,347.9 488.3,347.3 489.2,346.7 490.1,346.0 491.0,345.4 492.0,344.7 492.9,344.0 493.8,343.2 494.7,342.5 495.6,341.7 496.5,341.0 497.4,340.2 498.3,339.5 499.2,338.7 500.2,338.0 501.1,337.2 502.0,336.5 502.9,335.8 503.8,335.1 504.7,334.4 505.6,333.7 506.5,333.1 507.4,332.4 508.3,331.8 509.3,331.2 510.2,330.6 511.1,330.1 512.0,329.5 512.9,329.0 513.8,328.5 514.7,328.0 515.6,327.5 516.5,327.0 517.5,326.6 518.4,326.1 519.3,325.7 520.2,325.3 521.1,324.9 522.0,324.6 522.9,324.2 523.8,323.9 524.7,323.5 525.6,323.2 526.6,322.9 527.5,322.6 528.4,322.3 529.3,322.1 530.2,321.8 531.1,321.5 532.0,321.2 532.9,320.9 533.8,320.7 534.8,320.4 535.7,320.1 536.6,319.8 537.5,319.5 538.4,319.2 539.3,318.9 540.2,318.5 541.1,318.2 542.0,317.8 542.9,317.4 543.9,317.1 544.8,316.7 545.7,316.3 546.6,315.9 547.5,315.4 548.4,315.0 549.3,314.6 550.2,314.1 551.1,313.7 552.1,313.3 553.0,312.8 553.9,312.3 554.8,311.9 555.7,311.4 556.6,311.0 557.5,310.5 558.4,310.0 559.3,309.6 560.2,309.1 561.2,308.6 562.1,308.1 563.0,307.7 563.9,307.2 564.8,306.7 565.7,306.2 566.6,305.7 567.5,305.2 568.4,304.6 569.4,304.1 570.3,303.5 571.2,303.0 572.1,302.4 573.0,301.8 573.9,301.2 574.8,300.6 575.7,300.0 576.6,299.4 577.5,298.7 578.5,298.1 579.4,297.4 580.3,296.7 581.2,296.0 582.1,295.3 583.0,294.6 583.9,293.9 584.8,293.2 585.7,292.5 586.7,291.9 587.6,291.2 588.5,290.5 589.4,289.8 590.3,289.2 591.2,288.5 592.1,287.9 593.0,287.3 593.9,286.7 594.8,286.2 595.8,285.6 596.7,285.1 597.6,284.6 598.5,284.1 599.4,283.6 600.3,283.1 601.2,282.7 602.1,282.2 603.0,281.8 604.0,281.3 604.9,280.9 605.8,280.4 606.7,280.0 607.6,279.6 608.5,279.2 609.4,278.7 610.3,278.3 611.2,277.8 612.1,277.4 613.1,276.9 614.0,276.5 614.9,276.0 615.8,275.5 616.7,275.0 617.6,274.5 618.5,274.0 619.4,273.5 620.3,273.0 621.2,272.4 622.2,271.9 623.1,271.4 624.0,270.8 624.9,270.3 625.8,269.7 626.7,269.1 627.6,268.6 628.5,268.0 629.4,267.4 630.4,266.9 631.3,266.3 632.2,265.7 633.1,265.1 634.0,264.5 634.9,263.9 635.8,263.3 636.7,262.7 637.6,262.1 638.5,261.6 639.5,261.0 640.4,260.4 641.3,259.8 642.2,259.3 643.1,258.7 644.0,258.2 644.9,257.6 645.8,257.1 646.7,256.6 647.7,256.1 648.6,255.6 649.5,255.1 650.4,254.6 651.3,254.2 652.2,253.7 653.1,253.3 654.0,252.8 654.9,252.4 655.8,252.0 656.8,251.6 657.7,251.1 658.6,250.7 659.5,250.3 660.4,249.8 661.3,249.4 662.2,248.9 663.1,248.5 664.0,248.0 665.0,247.5 665.9,247.0 666.8,246.5 667.7,246.0 668.6,245.4 669.5,244.9 670.4,244.3 671.3,243.8 672.2,243.2 673.1,242.6 674.1,242.0 675.0,241.4 675.9,240.8 676.8,240.3 677.7,239.7 678.6,239.1 679.5,238.6 680.4,238.0 681.3,237.5 682.3,237.0 683.2,236.5 684.1,236.0 685.0,235.5 685.9,235.1 686.8,234.6 687.7,234.2 688.6,233.8 689.5,233.5 690.4,233.1 691.4,232.7 692.3,232.4 693.2,232.1 694.1,231.7 695.0,231.4 695.9,231.0 696.8,230.7 697.7,230.3 698.6,229.9 699.6,229.5 700.5,229.1 701.4,228.7 702.3,228.3 703.2,227.8 704.1,227.3 705.0,226.8 705.9,226.3 706.8,225.8 707.7,225.2 708.7,224.6 709.6,224.0 710.5,223.4 711.4,222.8 712.3,222.2 713.2,221.6 714.1,221.0 715.0,220.3 715.9,219.7 716.9,219.1 717.8,218.5 718.7,217.9 719.6,217.3 720.5,216.7 721.4,216.1 722.3,215.5 723.2,215.0 724.1,214.4 725.0,213.9 726.0,213.4 726.9,212.9 727.8,212.4 728.7,211.9 729.6,211.4 730.5,210.9 731.4,210.5 732.3,210.0 733.2,209.5 734.2,209.1 735.1,208.6 736.0,208.2 736.9,207.7 737.8,207.3 738.7,206.8 739.6,206.4 740.5,205.9 741.4,205.5 742.3,205.0 743.3,204.6 744.2,204.1 745.1,203.6 746.0,203.2 746.9,202.7 747.8,202.2 748.7,201.7 749.6,201.2 750.5,200.6 751.5,200.1 752.4,199.5 753.3,199.0 754.2,198.4 755.1,197.8 756.0,197.2 756.9,196.6 757.8,195.9 758.7,195.2 759.6,194.6 760.6,193.9 761.5,193.1 762.4,192.4 763.3,191.7 764.2,190.9 765.1,190.2 766.0,189.4 766.9,188.7 767.8,188.0 768.8,187.2 769.7,186.5 770.6,185.7 771.5,185.0 772.4,184.3 773.3,183.6 774.2,182.9 775.1,182.3 776.0,181.6 776.9,181.0 777.9,180.4 778.8,179.8 779.7,179.3 780.6,178.7 781.5,178.2 782.4,177.7 783.3,177.2 784.2,176.7 785.1,176.2 786.1,175.7 787.0,175.2 787.9,174.8 788.8,174.3 789.7,173.9 790.6,173.4 791.5,172.9 792.4,172.5 793.3,172.0 794.2,171.6 795.2,171.1 796.1,170.6 797.0,170.1 797.9,169.6 798.8,169.1 799.7,168.6 800.6,168.1 801.5,167.6 802.4,167.0 803.3,166.4 804.3,165.8 805.2,165.2 806.1,164.6 807.0,164.0 807.9,163.3 808.8,162.6 809.7,161.9 810.6,161.1 811.5,160.4 812.5,159.6 813.4,158.8 814.3,157.9 815.2,157.0 816.1,156.1 817.0,155.2 817.9,154.3 818.8,153.4 819.7,152.4 820.6,151.5 821.6,150.6 822.5,149.6 823.4,148.7 824.3,147.8 825.2,146.9 826.1,146.0 827.0,145.1 827.9,144.3 828.8,143.4 829.8,142.6 830.7,141.9 831.6,141.1 832.5,140.4 833.4,139.8 834.3,139.1 835.2,138.5 836.1,137.9 837.0,137.4 837.9,136.8 838.9,136.3 839.8,135.7 840.7,135.2 841.6,134.7 842.5,134.2 843.4,133.7 844.3,133.2 845.2,132.7 846.1,132.2 847.1,131.7 848.0,131.2 848.9,130.7 849.8,130.1 850.7,129.6 851.6,129.0 852.5,128.4 853.4,127.8 854.3,127.2 855.2,126.6 856.2,126.0 857.1,125.4 858.0,124.8 858.9,124.1 859.8,123.5 860.7,122.8 861.6,122.2 862.5,121.5 863.4,120.9 864.4,120.2 865.3,119.5 866.2,118.9 867.1,118.2 868.0,117.5 868.9,116.9 869.8,116.2 870.7,115.6 871.1,115.3" fill="none" stroke="#42040a" stroke-width="2.6" stroke-linejoin="round"/>
</g>
<!-- frame -->
<rect x="166.0" y="52.4" width="728.4" height="519.0" fill="none" stroke="#2e2e2e" stroke-width="2"/>
<path d="M202.4 571.4v-2.5M202.4 52.4v2.5M238.8 571.4v-2.5M238.8 52.4v2.5M275.3 571.4v-2.5M275.3 52.4v2.5M311.7 571.4v-2.5M311.7 52.4v2.5M348.1 571.4v-5.5M348.1 52.4v5.5M384.5 571.4v-2.5M384.5 52.4v2.5M420.9 571.4v-2.5M420.9 52.4v2.5M457.4 571.4v-2.5M457.4 52.4v2.5M493.8 571.4v-2.5M493.8 52.4v2.5M530.2 571.4v-5.5M530.2 52.4v5.5M566.6 571.4v-2.5M566.6 52.4v2.5M603.0 571.4v-2.5M603.0 52.4v2.5M639.5 571.4v-2.5M639.5 52.4v2.5M675.9 571.4v-2.5M675.9 52.4v2.5M712.3 571.4v-5.5M712.3 52.4v5.5M748.7 571.4v-2.5M748.7 52.4v2.5M785.1 571.4v-2.5M785.1 52.4v2.5M821.6 571.4v-2.5M821.6 52.4v2.5M858.0 571.4v-2.5M858.0 52.4v2.5M166.0 545.4h2.5M894.4 545.4h-2.5M166.0 519.5h2.5M894.4 519.5h-2.5M166.0 493.5h2.5M894.4 493.5h-2.5M166.0 467.6h7M894.4 467.6h-7M166.0 441.6h2.5M894.4 441.6h-2.5M166.0 415.7h2.5M894.4 415.7h-2.5M166.0 389.8h2.5M894.4 389.8h-2.5M166.0 363.8h7M894.4 363.8h-7M166.0 337.8h2.5M894.4 337.8h-2.5M166.0 311.9h2.5M894.4 311.9h-2.5M166.0 285.9h2.5M894.4 285.9h-2.5M166.0 260.0h7M894.4 260.0h-7M166.0 234.0h2.5M894.4 234.0h-2.5M166.0 208.1h2.5M894.4 208.1h-2.5M166.0 182.1h2.5M894.4 182.1h-2.5M166.0 156.2h7M894.4 156.2h-7M166.0 130.2h2.5M894.4 130.2h-2.5M166.0 104.3h2.5M894.4 104.3h-2.5M166.0 78.3h2.5M894.4 78.3h-2.5" stroke="#2e2e2e" stroke-width="1.6" fill="none"/>
<g font-size="26" fill="#303030"><text x="156" y="74.2" text-anchor="end">420</text><text x="156" y="168.8" text-anchor="end">400</text><text x="156" y="272.7" text-anchor="end">380</text><text x="156" y="376.7" text-anchor="end">360</text><text x="156" y="480.6" text-anchor="end">340</text><text x="156" y="571.8" text-anchor="end">320</text><text x="166.0" y="618.7" text-anchor="middle">1980</text><text x="348.1" y="618.7" text-anchor="middle">1990</text><text x="530.2" y="618.7" text-anchor="middle">2000</text><text x="712.3" y="618.7" text-anchor="middle">2010</text><text x="894.4" y="618.7" text-anchor="middle">2020</text></g>
<text x="529.7" y="659.6" font-size="25.5" fill="#2a2a2a" text-anchor="middle">YEAR</text>
<text transform="translate(82,436.2) rotate(-90)" font-size="25.5" fill="#2a2a2a" textLength="248.6" lengthAdjust="spacingAndGlyphs">PARTS PER MILLION</text>
<text transform="translate(912.3,562.4) rotate(-90)" font-size="14.3" fill="#222" textLength="101.6" lengthAdjust="spacingAndGlyphs">November 2018</text>
<!-- green box -->
<rect x="180" y="65.7" width="407.5" height="209" rx="5" fill="#2b8353"/>
<g font-size="23.6" font-weight="bold" fill="#eefdf0" stroke="#eefdf0" stroke-width="0.5"><text x="198" y="103.5" textLength="194.5" lengthAdjust="spacingAndGlyphs">November 10:</text><text x="408.5" y="103.5" textLength="162" lengthAdjust="spacingAndGlyphs">408.47 ppm</text><text x="198" y="136.4" textLength="194.5" lengthAdjust="spacingAndGlyphs">November 09:</text><text x="408.5" y="136.4" textLength="162" lengthAdjust="spacingAndGlyphs">408.46 ppm</text><text x="198" y="169.3" textLength="194.5" lengthAdjust="spacingAndGlyphs">November 08:</text><text x="408.5" y="169.3" textLength="162" lengthAdjust="spacingAndGlyphs">408.45 ppm</text><text x="198" y="202.2" textLength="194.5" lengthAdjust="spacingAndGlyphs">November 07:</text><text x="408.5" y="202.2" textLength="162" lengthAdjust="spacingAndGlyphs">408.44 ppm</text><text x="198" y="235.1" textLength="194.5" lengthAdjust="spacingAndGlyphs">November 06:</text><text x="408.5" y="235.1" textLength="162" lengthAdjust="spacingAndGlyphs">408.44 ppm</text></g>
<text x="334" y="256.6" font-size="11.2" font-weight="bold" font-style="italic" fill="#eefdf0" stroke="#eefdf0" stroke-width="0.3" textLength="237" lengthAdjust="spacingAndGlyphs">Last Updated: November 11, 2018</text>
</svg>
</body></html>
